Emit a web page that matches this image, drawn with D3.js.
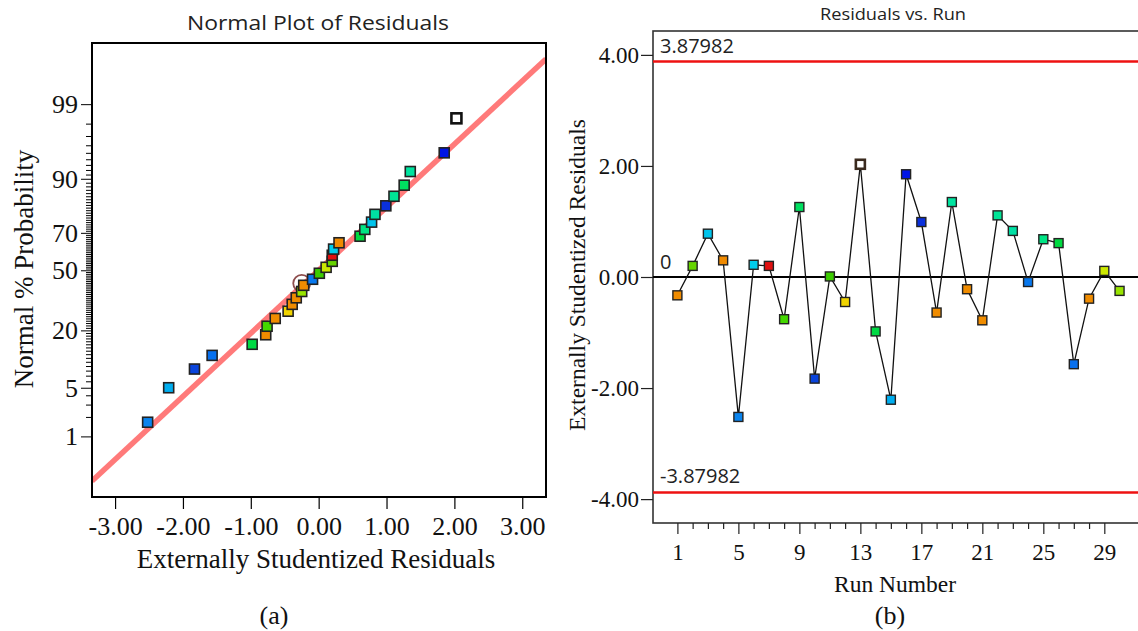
<!DOCTYPE html>
<html>
<head>
<meta charset="utf-8">
<script src="https://cdn.jsdelivr.net/npm/d3@7"></script>
<style>
  html, body { margin: 0; padding: 0; background: #fff; overflow: hidden; }
  svg { display: block; }
  .serif { font-family: "Liberation Serif", "Times New Roman", serif; fill: #111; }
  .sans { font-family: "Open Sans", "Noto Sans", sans-serif; fill: #222; }
</style>
</head>
<body>
<svg id="chart" width="1138" height="631"></svg>
<script>
// ---- data ----
const runNumbers = [1, 2, 3, 4, 5, 6, 7, 8, 9, 10, 11, 12, 13, 14, 15,
                    16, 17, 18, 19, 20, 21, 22, 23, 24, 25, 26, 27, 28, 29, 30];
const residuals = [-0.33, 0.20, 0.78, 0.30, -2.52, 0.22, 0.20, -0.76, 1.26, -1.83,
                   0.01, -0.45, 2.03, -0.98, -2.21, 1.85, 0.99, -0.64, 1.35, -0.22,
                   -0.78, 1.11, 0.83, -0.09, 0.68, 0.61, -1.57, -0.39, 0.11, -0.25];
const runColors = ["#f08c00", "#66d400", "#00c4ec", "#f08a00", "#0a84ee", "#00cdec", "#e01010", "#44d800", "#00e060", "#0a44dc",
                   "#3ccc00", "#f0d400", "#ffffff", "#00da44", "#00aef0", "#0014e6", "#0a30dc", "#f08c00", "#00e4a0", "#f08c00",
                   "#f08c00", "#00e496", "#00e0a4", "#0878ee", "#00e484", "#00da40", "#0870ee", "#f08c00", "#cce800", "#98e400"];
const selectedRun = 13;   // drawn hollow
const circledRun = 20;    // ringed on the normal plot

const residualTicks = [-3, -2, -1, 0, 1, 2, 3];
const residualTickLabels = ["-3.00", "-2.00", "-1.00", "0.00", "1.00", "2.00", "3.00"];
const probabilityLabels = [1, 5, 20, 50, 70, 90, 99];
const probabilityMinorTicks = d3.range(1, 100);
const referenceLine = [[-3.34, -2.95], [3.35, 2.96]];   // residual, normal score

const runTicks = [1, 5, 9, 13, 17, 21, 25, 29];
const runMinorTicks = d3.range(1, 30);
const studentizedTicks = [-4, -2, 0, 2, 4];
const studentizedTickLabels = ["-4.00", "-2.00", "0.00", "2.00", "4.00"];
const outlierLimit = 3.87982;

// ---- helpers ----
// inverse standard normal CDF (Acklam)
function qnorm(p) {
  const a = [-3.969683028665376e+01, 2.209460984245205e+02, -2.759285104469687e+02, 1.383577518672690e+02, -3.066479806614716e+01, 2.506628277459239e+00];
  const b = [-5.447609879822406e+01, 1.615858368580409e+02, -1.556989798598866e+02, 6.680131188771972e+01, -1.328068155288572e+01];
  const c = [-7.784894002430293e-03, -3.223964580411365e-01, -2.400758277161838e+00, -2.549732539343734e+00, 4.374664141464968e+00, 2.938163982698783e+00];
  const d = [7.784695709041462e-03, 3.224671290700398e-01, 2.445134137142996e+00, 3.754408661907416e+00];
  const pl = 0.02425;
  let q, r;
  if (p < pl) {
    q = Math.sqrt(-2 * Math.log(p));
    return (((((c[0]*q+c[1])*q+c[2])*q+c[3])*q+c[4])*q+c[5]) / ((((d[0]*q+d[1])*q+d[2])*q+d[3])*q+1);
  } else if (p <= 1 - pl) {
    q = p - 0.5; r = q * q;
    return (((((a[0]*r+a[1])*r+a[2])*r+a[3])*r+a[4])*r+a[5])*q / (((((b[0]*r+b[1])*r+b[2])*r+b[3])*r+b[4])*r+1);
  } else {
    q = Math.sqrt(-2 * Math.log(1 - p));
    return -(((((c[0]*q+c[1])*q+c[2])*q+c[3])*q+c[4])*q+c[5]) / ((((d[0]*q+d[1])*q+d[2])*q+d[3])*q+1);
  }
}

const svg = d3.select("#chart");
const runs = runNumbers.map((run, i) => ({ run, value: residuals[i], color: runColors[i] }));

// ================= (a) Normal plot of residuals =================
const A = { left: 92, right: 546, top: 43, bottom: 497 };
const xA = d3.scaleLinear().domain([-3.34, 3.35]).range([A.left, A.right]);
const yA = d3.scaleLinear().domain([-3.175, 3.183]).range([A.bottom, A.top]);

const gA = svg.append("g");
gA.append("clipPath").attr("id", "clipA")
  .append("rect").attr("x", A.left).attr("y", A.top)
  .attr("width", A.right - A.left).attr("height", A.bottom - A.top);

gA.append("text").attr("class", "sans")
  .attr("x", 318).attr("y", 30).attr("text-anchor", "middle")
  .attr("font-size", 20).attr("textLength", 262).attr("lengthAdjust", "spacingAndGlyphs")
  .text("Normal Plot of Residuals");

// reference line
gA.append("line").attr("clip-path", "url(#clipA)")
  .attr("x1", xA(referenceLine[0][0])).attr("y1", yA(referenceLine[0][1]))
  .attr("x2", xA(referenceLine[1][0])).attr("y2", yA(referenceLine[1][1]))
  .attr("stroke", "#ff7a7a").attr("stroke-width", 5.5);

// left axis: probability scale
const axisProb = d3.axisLeft(yA)
  .tickValues(probabilityMinorTicks.map(p => qnorm(p / 100)))
  .tickFormat((z, i) => probabilityLabels.includes(probabilityMinorTicks[i]) ? String(probabilityMinorTicks[i]) : "")
  .tickSizeOuter(0);
const gProb = gA.append("g").attr("transform", `translate(${A.left},0)`).call(axisProb);
gProb.select(".domain").remove();
gProb.selectAll(".tick line")
  .attr("x2", (z, i) => probabilityLabels.includes(probabilityMinorTicks[i]) ? -11 : -6)
  .attr("stroke", "#000").attr("stroke-width", 1);
gProb.selectAll(".tick text")
  .attr("class", "serif").attr("x", -14).attr("font-size", 26).attr("fill", "#111");

// bottom axis: residuals
const axisRes = d3.axisBottom(xA).tickValues(residualTicks)
  .tickFormat((v, i) => residualTickLabels[i]).tickSize(12).tickSizeOuter(0);
const gRes = gA.append("g").attr("transform", `translate(0,${A.bottom})`).call(axisRes);
gRes.select(".domain").remove();
gRes.selectAll(".tick line").attr("stroke", "#000").attr("stroke-width", 1.2);
gRes.selectAll(".tick text").attr("class", "serif").attr("y", 20).attr("dy", "0.71em")
  .attr("font-size", 26).attr("fill", "#111");

// frame
gA.append("rect").attr("x", A.left).attr("y", A.top)
  .attr("width", A.right - A.left).attr("height", A.bottom - A.top)
  .attr("fill", "none").attr("stroke", "#000").attr("stroke-width", 2);

// points ordered by residual, plotted at (i - 0.5)/n
const ranked = runs.slice().sort((p, q) => p.value - q.value)
  .map((d, i) => ({ ...d, z: qnorm((i + 0.5) / runs.length) }));

const ringed = ranked.find(d => d.run === circledRun);
gA.append("circle").attr("cx", xA(ringed.value) - 2).attr("cy", yA(ringed.z) - 2).attr("r", 8.5)
  .attr("fill", "none").attr("stroke", "#8e4e4e").attr("stroke-width", 1.8);

const sA = 10;
gA.selectAll("rect.pt").data(ranked).join("rect").attr("class", "pt")
  .attr("x", d => xA(d.value) - sA / 2).attr("y", d => yA(d.z) - sA / 2)
  .attr("width", sA).attr("height", sA)
  .attr("fill", d => d.color)
  .attr("stroke", d => d.run === selectedRun ? "#111" : "#222")
  .attr("stroke-width", d => d.run === selectedRun ? 2.6 : 1.6);

gA.append("text").attr("class", "serif")
  .attr("x", 316).attr("y", 568).attr("text-anchor", "middle").attr("font-size", 27)
  .text("Externally Studentized Residuals");
gA.append("text").attr("class", "serif")
  .attr("transform", "translate(33,269) rotate(-90)").attr("text-anchor", "middle").attr("font-size", 27)
  .text("Normal % Probability");
gA.append("text").attr("class", "serif")
  .attr("x", 274).attr("y", 624).attr("text-anchor", "middle").attr("font-size", 26)
  .text("(a)");

// ================= (b) Residuals vs. run =================
const B = { left: 653, right: 1147, top: 31, bottom: 523 };
const xB = d3.scaleLinear().domain([-0.6, 31.8]).range([B.left, B.right]);
const yB = d3.scaleLinear().domain([-4.43, 4.43]).range([B.bottom, B.top]);
const gB = svg.append("g");

gB.append("text").attr("class", "sans")
  .attr("x", 893).attr("y", 20).attr("text-anchor", "middle")
  .attr("font-size", 17).attr("textLength", 146).attr("lengthAdjust", "spacingAndGlyphs")
  .text("Residuals vs. Run");

gB.append("rect").attr("x", B.left).attr("y", B.top)
  .attr("width", B.right - B.left).attr("height", B.bottom - B.top)
  .attr("fill", "none").attr("stroke", "#333").attr("stroke-width", 1.6);

// outlier limits and zero line
[outlierLimit, -outlierLimit].forEach(v => {
  gB.append("line").attr("x1", B.left).attr("x2", B.right)
    .attr("y1", yB(v)).attr("y2", yB(v))
    .attr("stroke", "#ee1111").attr("stroke-width", 2.6);
});
gB.append("line").attr("x1", B.left).attr("x2", B.right)
  .attr("y1", yB(0)).attr("y2", yB(0)).attr("stroke", "#000").attr("stroke-width", 2);

gB.append("text").attr("class", "sans").attr("x", 660).attr("y", yB(outlierLimit) - 9)
  .attr("font-size", 20).text(outlierLimit.toFixed(5));
gB.append("text").attr("class", "sans").attr("x", 660).attr("y", yB(-outlierLimit) - 9)
  .attr("font-size", 20).text((-outlierLimit).toFixed(5));
gB.append("text").attr("class", "sans").attr("x", 660).attr("y", yB(0) - 8)
  .attr("font-size", 20).text("0");

// axes
const axisStud = d3.axisLeft(yB).tickValues(studentizedTicks)
  .tickFormat((v, i) => studentizedTickLabels[i]).tickSize(12).tickSizeOuter(0);
const gStud = gB.append("g").attr("transform", `translate(${B.left},0)`).call(axisStud);
gStud.select(".domain").remove();
gStud.selectAll(".tick line").attr("stroke", "#222").attr("stroke-width", 1.2);
gStud.selectAll(".tick text").attr("class", "serif").attr("x", -14).attr("font-size", 23).attr("fill", "#111");

const axisRun = d3.axisBottom(xB).tickValues(runMinorTicks)
  .tickFormat(v => runTicks.includes(v) ? String(v) : "").tickSizeOuter(0);
const gRun = gB.append("g").attr("transform", `translate(0,${B.bottom})`).call(axisRun);
gRun.select(".domain").remove();
gRun.selectAll(".tick line")
  .attr("y2", v => runTicks.includes(v) ? 11 : 6)
  .attr("stroke", "#222").attr("stroke-width", 1.2);
gRun.selectAll(".tick text").attr("class", "serif").attr("y", 21).attr("dy", "0.71em")
  .attr("font-size", 23).attr("fill", "#111");

gB.append("text").attr("class", "serif")
  .attr("transform", "translate(585,275) rotate(-90)").attr("text-anchor", "middle").attr("font-size", 23.5)
  .text("Externally Studentized Residuals");
gB.append("text").attr("class", "serif")
  .attr("x", 895).attr("y", 592).attr("text-anchor", "middle").attr("font-size", 23.5)
  .text("Run Number");
gB.append("text").attr("class", "serif")
  .attr("x", 890).attr("y", 624).attr("text-anchor", "middle").attr("font-size", 26)
  .text("(b)");

// run-order trace and markers
gB.append("path").datum(runs)
  .attr("d", d3.line().x(d => xB(d.run)).y(d => yB(d.value)))
  .attr("fill", "none").attr("stroke", "#111").attr("stroke-width", 1.3);

const sB = 9;
gB.selectAll("rect.pt").data(runs).join("rect").attr("class", "pt")
  .attr("x", d => xB(d.run) - sB / 2).attr("y", d => yB(d.value) - sB / 2)
  .attr("width", sB).attr("height", sB)
  .attr("fill", d => d.color)
  .attr("stroke", d => d.run === selectedRun ? "#3a2a1e" : "#222")
  .attr("stroke-width", d => d.run === selectedRun ? 2.6 : 1.4);
</script>
</body>
</html>
